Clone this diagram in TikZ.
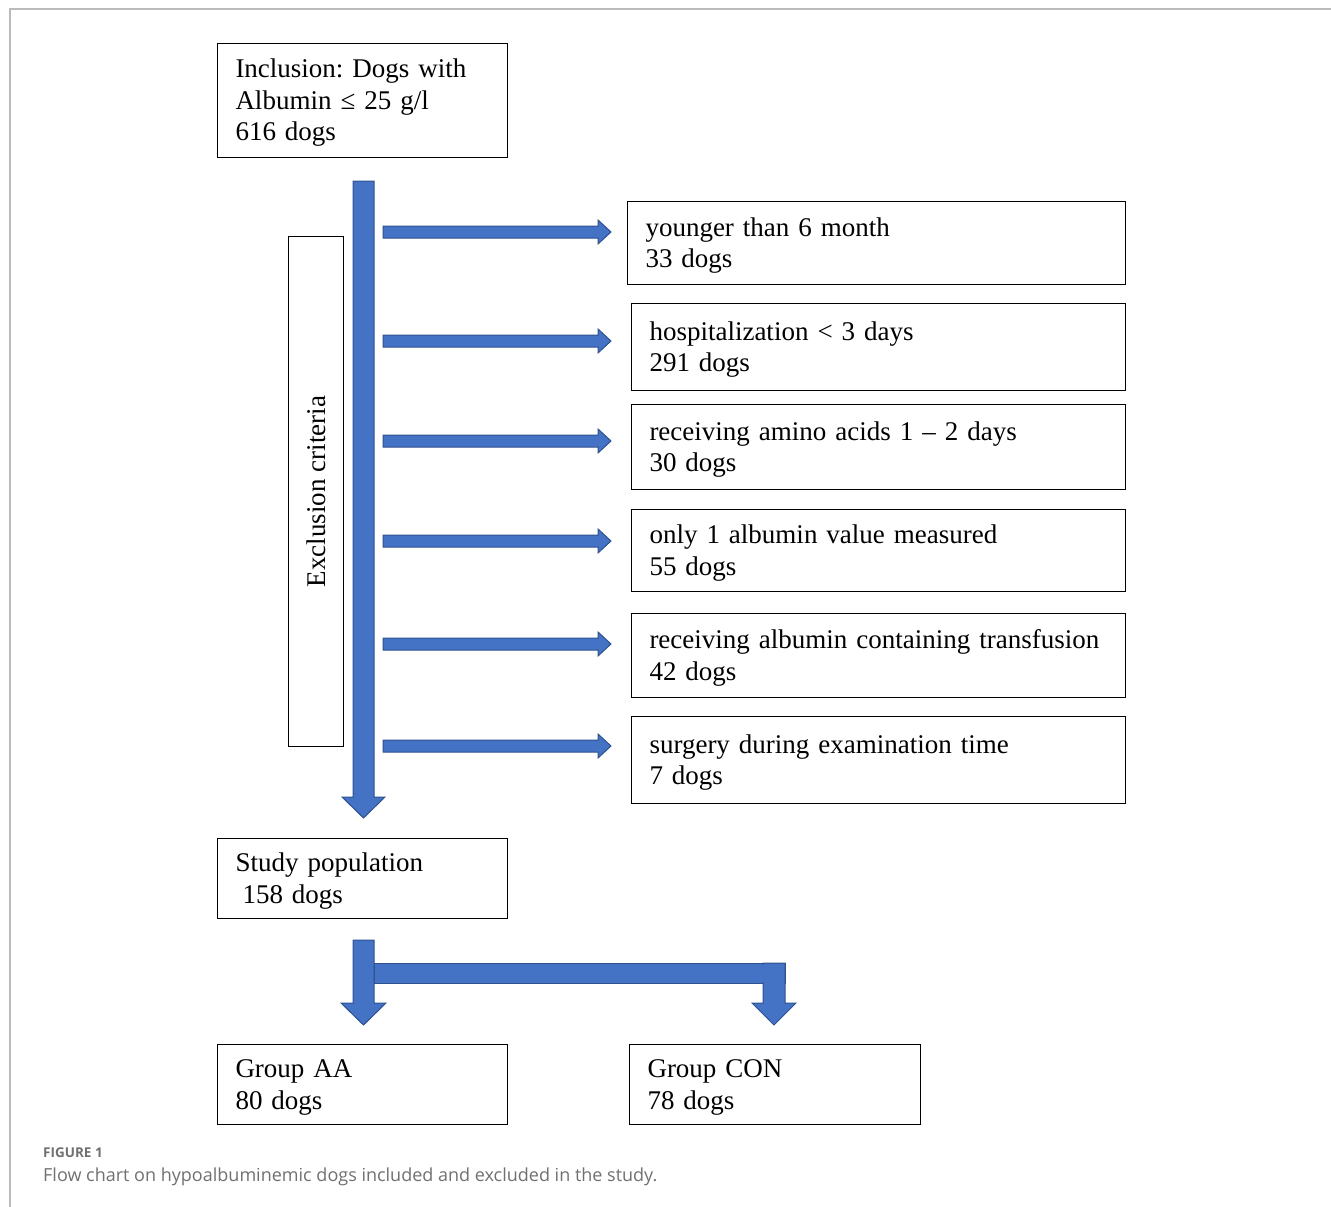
\documentclass[tikz,border=0pt]{standalone}
\usepackage{fontspec}
\setmainfont{Liberation Serif}
\newfontfamily\capfont{Open Sans}
\definecolor{arrblue}{HTML}{4472C4}
\definecolor{arredge}{HTML}{2F528F}
\definecolor{framegray}{HTML}{BBBBBB}
\definecolor{capgray}{HTML}{707070}
\frenchspacing
\begin{document}
\begin{tikzpicture}[x=1pt,y={(0pt,-1pt)},
  box/.style={draw, line width=1pt, align=left, inner xsep=18pt, inner ysep=0pt,
    anchor=north west, text height=23.5pt, font=\fontsize{27}{31.5}\selectfont},
  blockarrow/.style={fill=arrblue, draw=arredge, line width=1pt, line join=miter}]
\useasboundingbox (0,0) rectangle (1331,1207);
% frame
\draw[framegray, line width=1.5pt] (10,1207) -- (10,9) -- (1331,9);
% boxes
\node[box, minimum width=290pt, minimum height=114pt, text width=254pt] (incl) at (217,43)
  {Inclusion: Dogs with\\Albumin ≤ 25 g/l\\616 dogs};
\node[draw, line width=1pt, minimum width=55pt, minimum height=510pt, anchor=north west, inner sep=0pt] (excl) at (288,236) {};
\node[rotate=90, font=\fontsize{27}{30}\selectfont] (exclt) at (excl.center) {Exclusion criteria};
\node[box, minimum width=498pt, minimum height=83pt, text width=462pt] (c1) at (627,201)
  {younger than 6 month\\33 dogs};
\node[box, minimum width=494pt, minimum height=87pt, text width=458pt] (c2) at (631,303)
  {hospitalization < 3 days\\291 dogs};
\node[box, minimum width=494pt, minimum height=85pt, text width=458pt] (c3) at (631,404)
  {receiving amino acids 1 – 2 days\\30 dogs};
\node[box, minimum width=494pt, minimum height=82pt, text width=458pt] (c4) at (631,509)
  {only 1 albumin value measured\\55 dogs};
\node[box, minimum width=494pt, minimum height=84pt, text width=458pt] (c5) at (631,613)
  {receiving albumin containing transfusion\\42 dogs};
\node[box, minimum width=494pt, minimum height=87pt, text width=458pt] (c6) at (631,716)
  {surgery during examination time\\7 dogs};
\node[box, minimum width=290pt, minimum height=80pt, text width=254pt] (study) at (217,838)
  {Study population\\\hspace*{7pt}158 dogs};
\node[box, minimum width=290pt, minimum height=80pt, text width=254pt] (aa) at (217,1044)
  {Group AA\\80 dogs};
\node[box, minimum width=291pt, minimum height=80pt, text width=255pt] (con) at (629,1044)
  {Group CON\\78 dogs};
% main down arrow
\draw[blockarrow] (353,181) -- (374,181) -- (374,797) -- (385,797) -- (363.5,818) -- (342,797) -- (353,797) -- cycle;
% side arrows
\foreach \yc in {232,341,441,541,644,746}{
  \draw[blockarrow] (383,\yc-6) -- (598,\yc-6) -- (598,\yc-12) -- (611,\yc) -- (598,\yc+12) -- (598,\yc+6) -- (383,\yc+6) -- cycle;
}
% split arrows
\draw[blockarrow] (374,963) rectangle (785,983);
\draw[blockarrow] (353,940) -- (374,940) -- (374,1003) -- (386,1003) -- (363.5,1025) -- (341,1003) -- (353,1003) -- cycle;
\draw[blockarrow] (763,963) -- (785,963) -- (785,1003) -- (796,1003) -- (774,1025) -- (752,1003) -- (763,1003) -- cycle;
\fill[arrblue] (375,964.5) rectangle (784,981.5);
% caption
\node[anchor=west, inner sep=0pt, text=capgray, font=\capfont\bfseries\fontsize{13.5}{15}\selectfont] (fig) at (43,1153) {FIGURE 1};
\node[anchor=west, inner sep=0pt, text=capgray, font=\capfont\fontsize{18}{20}\selectfont] (cap) at (43,1177) {Flow chart on hypoalbuminemic dogs included and excluded in the study.};
\end{tikzpicture}
\end{document}
